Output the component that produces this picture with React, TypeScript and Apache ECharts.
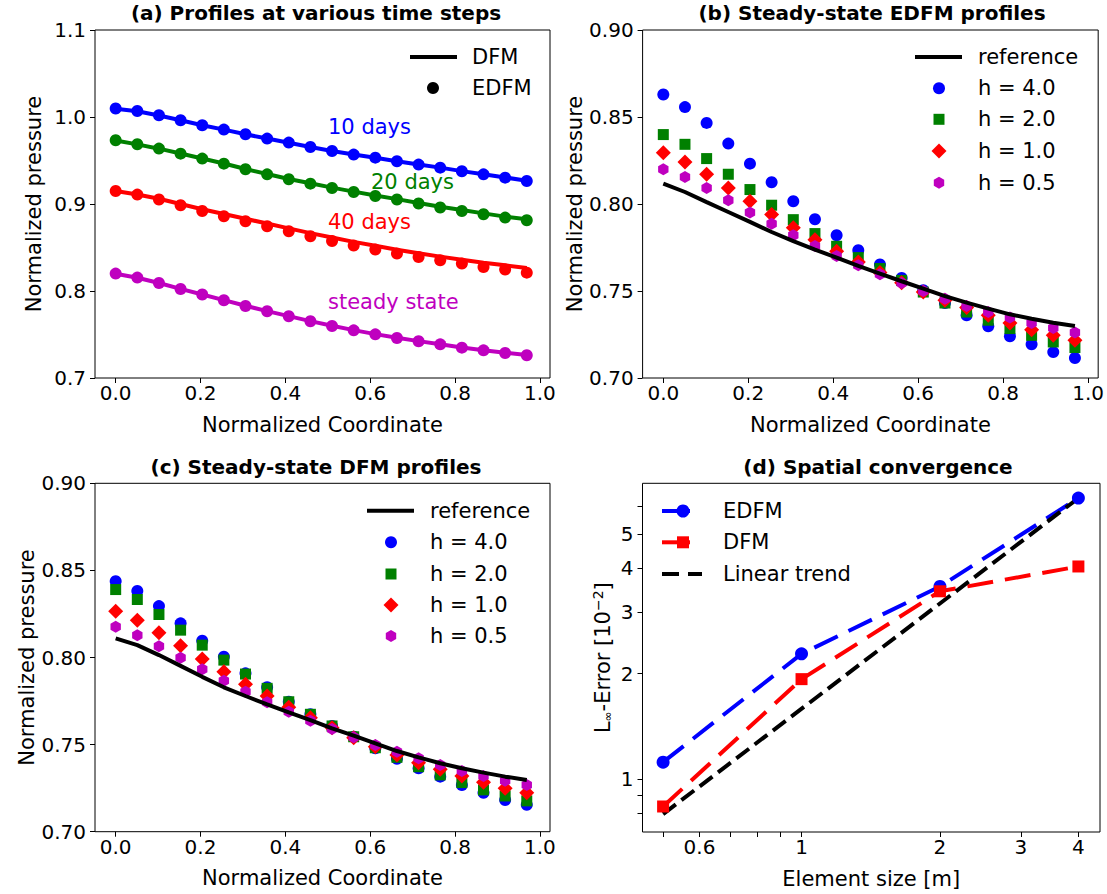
import React, { useEffect, useRef } from "react";
import * as echarts from "echarts";

// ---------- data ----------
const xs = [0, 0.051, 0.102, 0.153, 0.204, 0.255, 0.306, 0.357, 0.408, 0.459, 0.51, 0.561, 0.612, 0.663, 0.714, 0.765, 0.816, 0.867, 0.918, 0.969];

// (a) profiles at various time steps
const edfm10 = [1.0097, 1.0069, 1.002, 0.9962, 0.9905, 0.9855, 0.9801, 0.9752, 0.9706, 0.9655, 0.9609, 0.9568, 0.9533, 0.9491, 0.9453, 0.9418, 0.9376, 0.9341, 0.9303, 0.9264];
const dfm10 = [1.0095, 1.0067, 1.0018, 0.9962, 0.9906, 0.9855, 0.9802, 0.9752, 0.9705, 0.9656, 0.961, 0.9568, 0.9532, 0.9492, 0.9454, 0.9418, 0.9378, 0.9342, 0.9305, 0.9268];
const edfm20 = [0.9732, 0.9686, 0.9637, 0.9579, 0.9522, 0.9464, 0.9399, 0.9341, 0.9284, 0.9234, 0.9184, 0.9138, 0.9092, 0.9051, 0.9005, 0.8959, 0.892, 0.8882, 0.8844, 0.8813];
const dfm20 = [0.973, 0.9685, 0.9636, 0.958, 0.9523, 0.9465, 0.9402, 0.9344, 0.9288, 0.9238, 0.9188, 0.9142, 0.9097, 0.9056, 0.9012, 0.8968, 0.893, 0.8892, 0.8855, 0.8825];
const edfm40 = [0.9149, 0.9108, 0.9051, 0.8985, 0.892, 0.8859, 0.8801, 0.8744, 0.8686, 0.8629, 0.8575, 0.8522, 0.8476, 0.843, 0.8391, 0.8353, 0.8315, 0.8276, 0.8246, 0.8211];
const dfm40 = [0.915, 0.911, 0.906, 0.9, 0.894, 0.8885, 0.883, 0.8775, 0.872, 0.8665, 0.8615, 0.8565, 0.852, 0.8475, 0.8435, 0.8395, 0.836, 0.8325, 0.8295, 0.8265];
const edfmSS = [0.82, 0.8154, 0.8092, 0.8023, 0.7959, 0.7893, 0.7828, 0.7767, 0.7709, 0.7652, 0.7598, 0.7548, 0.7502, 0.746, 0.7422, 0.7387, 0.7349, 0.7318, 0.7287, 0.7261];
const dfmSS = [0.8198, 0.8152, 0.8092, 0.8024, 0.796, 0.7895, 0.783, 0.7769, 0.7711, 0.7654, 0.76, 0.755, 0.7504, 0.7462, 0.7424, 0.7388, 0.7351, 0.732, 0.729, 0.7264];

// (b) steady-state EDFM profiles
const refB = [0.8117, 0.8069, 0.8011, 0.7954, 0.7897, 0.7839, 0.7787, 0.7738, 0.7692, 0.7644, 0.76, 0.7556, 0.7514, 0.7471, 0.7433, 0.7399, 0.7366, 0.7341, 0.7318, 0.7299];
const bH40 = [0.8629, 0.8557, 0.8466, 0.8347, 0.8232, 0.8125, 0.8016, 0.7912, 0.782, 0.7734, 0.7653, 0.7575, 0.7504, 0.7431, 0.736, 0.7297, 0.724, 0.7194, 0.7149, 0.7115];
const bH20 = [0.8399, 0.8343, 0.8261, 0.8171, 0.8083, 0.7993, 0.791, 0.783, 0.7757, 0.7692, 0.7629, 0.7561, 0.7494, 0.7431, 0.7379, 0.7332, 0.7284, 0.7245, 0.7207, 0.7175];
const bH10 = [0.8295, 0.8241, 0.8171, 0.8092, 0.8016, 0.7939, 0.7864, 0.7795, 0.7728, 0.7667, 0.7606, 0.7548, 0.7494, 0.7447, 0.7405, 0.736, 0.7316, 0.7278, 0.7245, 0.7217];
const bH05 = [0.8199, 0.8155, 0.8092, 0.8021, 0.7951, 0.7887, 0.782, 0.7759, 0.7701, 0.7648, 0.7596, 0.7546, 0.75, 0.7456, 0.7414, 0.7379, 0.7347, 0.7316, 0.7287, 0.7261];

// (c) steady-state DFM profiles
const refC = [0.811, 0.8071, 0.8014, 0.7952, 0.7889, 0.7829, 0.7779, 0.7731, 0.7685, 0.7641, 0.7593, 0.7551, 0.7507, 0.7463, 0.7427, 0.7393, 0.7364, 0.7339, 0.7316, 0.7297];
const cH40 = [0.8438, 0.8382, 0.8295, 0.8196, 0.8096, 0.8004, 0.7909, 0.7829, 0.7746, 0.7674, 0.7607, 0.7545, 0.7479, 0.7419, 0.7364, 0.7316, 0.7268, 0.7224, 0.7182, 0.7154];
const cH20 = [0.839, 0.8333, 0.8247, 0.8157, 0.8071, 0.7985, 0.7905, 0.7823, 0.7746, 0.7674, 0.7607, 0.7545, 0.7482, 0.7427, 0.7373, 0.7326, 0.7282, 0.724, 0.7205, 0.7177];
const cH10 = [0.8266, 0.8214, 0.8142, 0.8067, 0.7991, 0.7918, 0.7846, 0.7779, 0.7714, 0.7654, 0.7597, 0.754, 0.7488, 0.744, 0.7396, 0.7358, 0.732, 0.7284, 0.7249, 0.7224];
const cH05 = [0.8176, 0.8128, 0.8065, 0.7998, 0.7932, 0.7866, 0.7803, 0.7743, 0.7689, 0.7637, 0.7589, 0.7542, 0.7498, 0.7459, 0.7421, 0.7383, 0.7349, 0.732, 0.7293, 0.7268];

// (d) spatial convergence
const elemSize = [0.5, 1, 2, 4];
const errEDFM = [1.118, 2.28, 3.55, 6.35];
const errDFM = [0.835, 1.93, 3.44, 4.05];
const trendX = [0.5, 4];
const trendY = [0.794, 6.35];

const profTicks = [0, 0.2, 0.4, 0.6, 0.8, 1.0];
const aTicks = [0.7, 0.8, 0.9, 1.0, 1.1];
const bcTicks = [0.7, 0.75, 0.8, 0.85, 0.9];
const dXLabels = [0.6, 1, 2, 3, 4];
const dXTicks = [0.5, 0.6, 0.7, 0.8, 0.9, 1, 2, 3, 4];
const dYLabels = [1, 2, 3, 4, 5];
const dYTicks = [0.8, 0.9, 1, 2, 3, 4, 5, 6];

const BLUE = "#0000ff";
const GREEN = "#008000";
const RED = "#ff0000";
const MAG = "#bf00bf";
const FONT = "DejaVu Sans";
const FS = 21;
const HEX = "path://M0,-10 L8.66,-5 L8.66,5 L0,10 L-8.66,5 L-8.66,-5 Z";

const zip = (a: number[], b: number[]) => a.map((v, i) => [v, b[i]]);

function App() {
  const ref = useRef<HTMLDivElement>(null);
  useEffect(() => {
    document.body.style.margin = "0";
    const chart = echarts.init(ref.current!, null, { renderer: "svg" });

    const grids = [
      { left: 95, top: 30, width: 455, height: 348 },
      { left: 642.6, top: 30, width: 455.8, height: 348 },
      { left: 95, top: 483.3, width: 455, height: 348.4 },
      { left: 642.5, top: 483.3, width: 457.5, height: 348.7 },
    ].map((g) => ({ ...g, show: true, borderColor: "#000", borderWidth: 1, backgroundColor: "#fff" }));

    const tickStyle = { show: true, length: 5, lineStyle: { color: "#000", width: 1 } };
    const labelStyle = { color: "#000", fontSize: FS - 1, fontFamily: FONT };
    const nameStyle = { color: "#000", fontSize: FS, fontFamily: FONT };
    const noLine = { show: false, onZero: false };

    const profX = (i: number) => ({
      type: "value",
      gridIndex: i,
      min: -0.04875,
      max: 1.02375,
      splitLine: { show: false },
      axisLine: noLine,
      axisTick: { ...tickStyle, customValues: profTicks },
      axisLabel: { ...labelStyle, margin: 5, customValues: profTicks, formatter: (v: number) => v.toFixed(1) },
      name: "Normalized Coordinate",
      nameLocation: "middle",
      nameGap: 36,
      nameTextStyle: nameStyle,
    });
    const profY = (i: number, min: number, max: number, ticks: number[], dec: number) => ({
      type: "value",
      gridIndex: i,
      min,
      max,
      splitLine: { show: false },
      axisLine: noLine,
      axisTick: { ...tickStyle, customValues: ticks },
      axisLabel: { ...labelStyle, margin: 9, customValues: ticks, formatter: (v: number) => v.toFixed(dec) },
      name: "Normalized pressure",
      nameLocation: "middle",
      nameGap: 51,
      nameTextStyle: nameStyle,
    });

    const xAxis = [
      profX(0),
      profX(1),
      profX(2),
      {
        type: "log",
        logBase: 10,
        gridIndex: 3,
        min: 0.451,
        max: 4.457,
        splitLine: { show: false },
        minorTick: { show: false },
        axisLine: noLine,
        axisTick: { ...tickStyle, customValues: dXTicks },
        axisLabel: { ...labelStyle, margin: 5, customValues: dXLabels, formatter: (v: number) => String(+v.toFixed(2)) },
        name: "Element size [m]",
        nameLocation: "middle",
        nameGap: 36,
        nameTextStyle: nameStyle,
      },
    ];
    const yAxis = [
      profY(0, 0.7, 1.1, aTicks, 1),
      profY(1, 0.7, 0.9, bcTicks, 2),
      profY(2, 0.7, 0.9, bcTicks, 2),
      {
        type: "log",
        logBase: 10,
        gridIndex: 3,
        min: 0.706,
        max: 7.0,
        splitLine: { show: false },
        minorTick: { show: false },
        axisLine: noLine,
        axisTick: { ...tickStyle, customValues: dYTicks },
        axisLabel: { ...labelStyle, margin: 9, customValues: dYLabels, formatter: (v: number) => String(Math.round(v)) },
        name: "{a|L}{s|∞}{a|-Error [10}{p|−2}{a|]}",
        nameLocation: "middle",
        nameGap: 27,
        nameTextStyle: {
          ...nameStyle,
          rich: {
            a: { fontSize: FS, fontFamily: FONT, color: "#000", lineHeight: 26 },
            s: { fontSize: 12, fontFamily: FONT, color: "#000", lineHeight: 26, padding: [10, 0, 0, 0] },
            p: { fontSize: 14, fontFamily: FONT, color: "#000", lineHeight: 26, padding: [0, 0, 10, 0] },
          },
        },
      },
    ];

    const lineS = (i: number, data: number[], color: string, extra: any = {}) => ({
      type: "line",
      xAxisIndex: i,
      yAxisIndex: i,
      data: zip(xs, data),
      showSymbol: false,
      lineStyle: { color, width: 4 },
      itemStyle: { color },
      silent: true,
      ...extra,
    });
    const dotS = (i: number, data: number[], color: string, symbol: string, size: any) => ({
      type: "scatter",
      xAxisIndex: i,
      yAxisIndex: i,
      data: zip(xs, data),
      symbol,
      symbolSize: size,
      symbolKeepAspect: true,
      itemStyle: { color, opacity: 1 },
      silent: true,
    });

    const series: any[] = [
      lineS(0, dfm10, BLUE),
      dotS(0, edfm10, BLUE, "circle", 12),
      lineS(0, dfm20, GREEN),
      dotS(0, edfm20, GREEN, "circle", 12),
      lineS(0, dfm40, RED),
      dotS(0, edfm40, RED, "circle", 12),
      lineS(0, dfmSS, MAG),
      dotS(0, edfmSS, MAG, "circle", 12),

      lineS(1, refB, "#000"),
      dotS(1, bH40, BLUE, "circle", 12),
      dotS(1, bH20, GREEN, "rect", 11),
      dotS(1, bH10, RED, "diamond", 15),
      dotS(1, bH05, MAG, HEX, 12),

      lineS(2, refC, "#000"),
      dotS(2, cH40, BLUE, "circle", 12),
      dotS(2, cH20, GREEN, "rect", 11),
      dotS(2, cH10, RED, "diamond", 15),
      dotS(2, cH05, MAG, HEX, 12),

      {
        type: "line",
        xAxisIndex: 3,
        yAxisIndex: 3,
        data: zip(elemSize, errEDFM),
        symbol: "circle",
        symbolSize: 13,
        lineStyle: { color: BLUE, width: 4, type: [26, 12] },
        itemStyle: { color: BLUE },
        silent: true,
      },
      {
        type: "line",
        xAxisIndex: 3,
        yAxisIndex: 3,
        data: zip(elemSize, errDFM),
        symbol: "rect",
        symbolSize: 12,
        lineStyle: { color: RED, width: 4, type: [26, 12] },
        itemStyle: { color: RED },
        silent: true,
      },
      {
        type: "line",
        xAxisIndex: 3,
        yAxisIndex: 3,
        data: zip(trendX, trendY),
        showSymbol: false,
        lineStyle: { color: "#000", width: 4, type: [16, 7] },
        silent: true,
      },
    ];

    const txt = (x: number, y: number, text: string, fill = "#000") => ({
      type: "text",
      x,
      y,
      z: 100,
      style: { text, fill, font: `${FS}px '${FONT}'`, verticalAlign: "middle", align: "left" },
    });
    const hline = (x1: number, x2: number, y: number, stroke: string, dash?: number[]) => ({
      type: "line",
      z: 100,
      shape: { x1, y1: y, x2, y2: y },
      style: { stroke, lineWidth: 4, lineDash: dash },
    });
    const circ = (cx: number, cy: number, r: number, fill: string) => ({ type: "circle", z: 100, shape: { cx, cy, r }, style: { fill } });
    const sq = (cx: number, cy: number, s: number, fill: string) => ({ type: "rect", z: 100, shape: { x: cx - s / 2, y: cy - s / 2, width: s, height: s }, style: { fill } });
    const dia = (cx: number, cy: number, r: number, fill: string) => ({
      type: "polygon",
      z: 100,
      shape: { points: [[cx, cy - r], [cx + r, cy], [cx, cy + r], [cx - r, cy]] },
      style: { fill },
    });
    const hex = (cx: number, cy: number, r: number, fill: string) => ({
      type: "polygon",
      z: 100,
      shape: { points: [0, 1, 2, 3, 4, 5].map((k) => [cx + r * Math.sin((k * Math.PI) / 3), cy - r * Math.cos((k * Math.PI) / 3)]) },
      style: { fill },
    });

    const hLegend = (lx1: number, lx2: number, mx: number, tx: number, ys: number[]) => [
      hline(lx1, lx2, ys[0], "#000"),
      txt(tx, ys[0], "reference"),
      circ(mx, ys[1], 6, BLUE),
      txt(tx, ys[1], "h = 4.0"),
      sq(mx, ys[2], 11, GREEN),
      txt(tx, ys[2], "h = 2.0"),
      dia(mx, ys[3], 7.5, RED),
      txt(tx, ys[3], "h = 1.0"),
      hex(mx, ys[4], 6, MAG),
      txt(tx, ys[4], "h = 0.5"),
    ];

    const graphic: any[] = [
      // (a) legend + labels
      hline(410, 457, 57, "#000"),
      txt(472, 57, "DFM"),
      circ(433, 88, 6, "#000"),
      txt(472, 88, "EDFM"),
      txt(328, 127, "10 days", BLUE),
      txt(371, 182, "20 days", GREEN),
      txt(328, 222, "40 days", RED),
      txt(328, 302, "steady state", MAG),
      // (b) legend
      ...hLegend(915, 962, 939, 978, [57, 88.3, 119.3, 151, 182.7]),
      // (c) legend
      ...hLegend(367, 414, 391, 430, [510.7, 542.3, 574, 605, 636]),
      // (d) legend
      hline(662, 690, 511, BLUE),
      circ(683, 511, 6.5, BLUE),
      txt(723, 511, "EDFM"),
      hline(662, 690, 542.3, RED),
      sq(683, 542.3, 12, RED),
      txt(723, 542.3, "DFM"),
      hline(662, 702, 574, "#000", [17, 9]),
      txt(723, 574, "Linear trend"),
    ];

    const titleStyle = { color: "#000", fontSize: 20, fontWeight: "bold", fontFamily: FONT };
    const title = [
      { text: "(a) Profiles at various time steps", left: 311, top: -2, textAlign: "center", textStyle: titleStyle },
      { text: "(b) Steady-state EDFM profiles", left: 867, top: -2, textAlign: "center", textStyle: titleStyle },
      { text: "(c) Steady-state DFM profiles", left: 311, top: 452, textAlign: "center", textStyle: titleStyle },
      { text: "(d) Spatial convergence", left: 873, top: 452, textAlign: "center", textStyle: titleStyle },
    ];

    chart.setOption({
      animation: false,
      backgroundColor: "#fff",
      title,
      grid: grids,
      xAxis,
      yAxis,
      series,
      graphic,
    } as any);

    return () => chart.dispose();
  }, []);

  return <div ref={ref} style={{ width: 1107, height: 894 }} />;
}

export default App;
